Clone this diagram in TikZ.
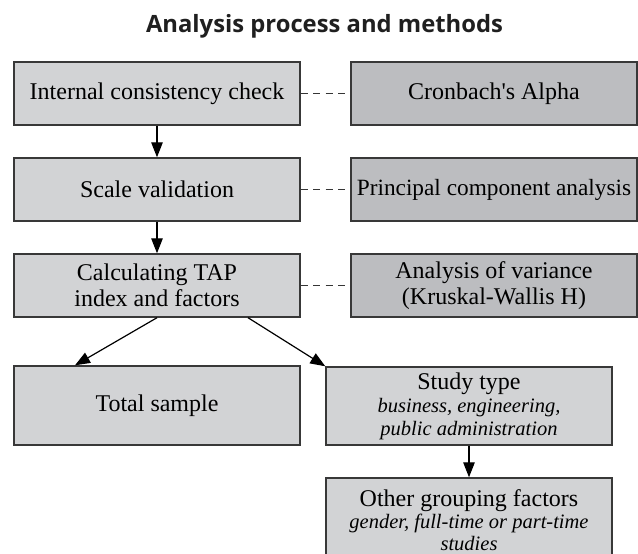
\documentclass[tikz,border=0pt]{standalone}
\usepackage{fontspec}
\setmainfont{Liberation Serif}[Ligatures=TeXOff]
\setsansfont{Open Sans}
\usetikzlibrary{arrows.meta}
\definecolor{lightfill}{HTML}{D2D3D5}
\definecolor{darkfill}{HTML}{BCBDC0}
\definecolor{bordercol}{HTML}{383838}
\definecolor{dashcol}{HTML}{353535}
\tikzset{
  lbox/.style={draw=bordercol, line width=1.4pt, fill=lightfill, minimum width=286pt,
    minimum height=63pt, inner sep=0pt, align=center, font=\fontsize{24}{26}\selectfont},
  mbox/.style={lbox, fill=darkfill},
  dashline/.style={draw=dashcol, line width=1.6pt, dash pattern=on 7pt off 5.5pt},
  arr/.style={draw=black, line width=1.2pt, -{Triangle[length=15pt,width=11.5pt]}},
  titletext/.style={font=\sffamily\bfseries\fontsize{23.8}{26}\selectfont, text=black!88, inner sep=0pt}
}
\newcommand{\itline}[1]{\textit{\fontsize{20.5}{23}\selectfont #1}}
\newcommand{\itlineb}[1]{\textit{\fontsize{20.5}{22}\selectfont #1}}
\begin{document}
\begin{tikzpicture}[x=1pt,y=-1pt]
\useasboundingbox (0,0) rectangle (638,554);
\node[titletext, anchor=base] (title) at (324.5,32) {Analysis process and methods};
\node[lbox] (b1) at (157,93.5) {Internal consistency check};
\node[mbox] (m1) at (494,93.5) {Cronbach's Alpha};
\node[lbox] (b2) at (157,189.5) {Scale validation};
\node[mbox, font=\fontsize{23.3}{26}\selectfont] (m2) at (494,189.5) {Principal component analysis};
\node[lbox] (b3) at (157,285.5) {Calculating TAP\\index and factors};
\node[mbox] (m3) at (494,285.5) {Analysis of variance\\(Kruskal-Wallis H)};
\node[lbox, minimum height=79pt] (total) at (157,405.5) {Total sample};
\node[lbox, minimum height=78pt, font=\fontsize{24}{23}\selectfont] (study) at (469,406)
  {Study type\\\itline{business, engineering,}\\\itline{public administration}};
\node[lbox, minimum height=84pt, font=\fontsize{24}{22}\selectfont] (other) at (469,520)
  {Other grouping factors\\\itlineb{gender, full-time or part-time}\\\itlineb{studies}};
\draw[dashline] (b1.east) -- (m1.west);
\draw[dashline] (b2.east) -- (m2.west);
\draw[dashline] (b3.east) -- (m3.west);
\draw[arr] (b1.south) -- (b2.north);
\draw[arr] (b2.south) -- (b3.north);
\draw[arr] (b3.south) -- ([xshift=-82pt]total.north);
\draw[arr] ([xshift=91pt]b3.south) -- (study.north west);
\draw[arr] (study.south) -- (other.north);
\end{tikzpicture}
\end{document}
